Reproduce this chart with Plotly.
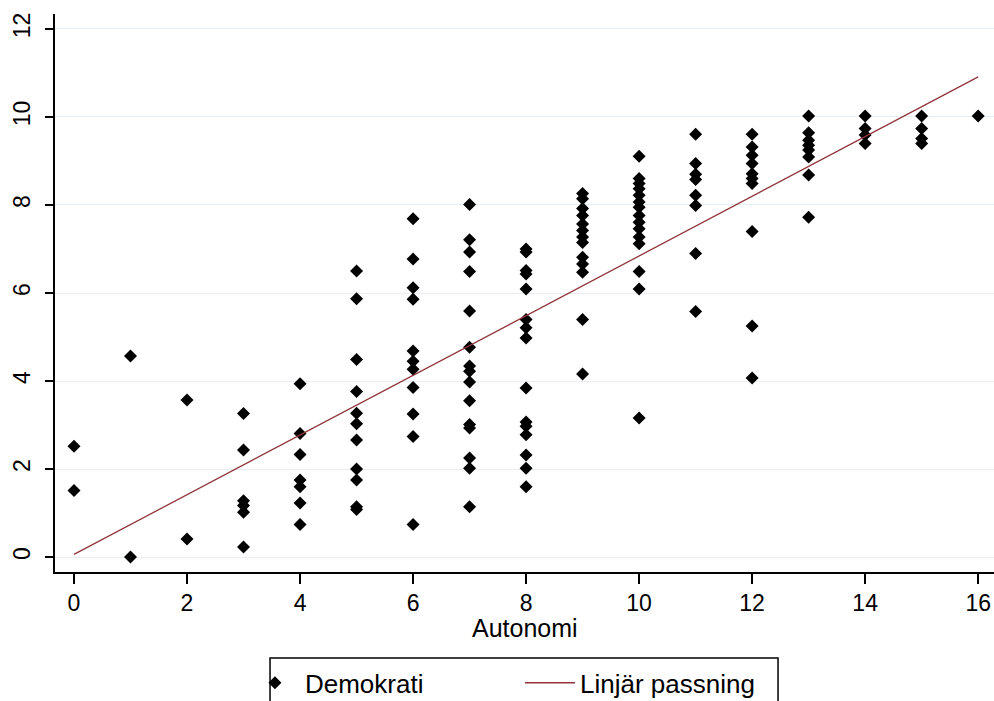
import plotly.graph_objects as go

# Autonomi (x) and Demokrati (y) values
x0 = [0, 0]
y0 = [2.52, 1.51]
x1 = [1, 1]
y1 = [4.57, 0.0]
x2 = [2, 2]
y2 = [3.57, 0.41]
x3 = [3] * 6
y3 = [3.26, 2.43, 1.28, 1.17, 1.02, 0.23]
x4 = [4] * 7
y4 = [3.94, 2.81, 2.33, 1.75, 1.60, 1.23, 0.74]
x5 = [5] * 11
y5 = [6.50, 5.87, 4.49, 3.76, 3.27, 3.03, 2.66, 2.00, 1.75, 1.14, 1.08]
x6 = [6] * 11
y6 = [7.69, 6.77, 6.12, 5.86, 4.68, 4.45, 4.27, 3.85, 3.25, 2.74, 0.74]
x7 = [7] * 15
y7 = [8.01, 7.21, 6.93, 6.49, 5.59, 4.77, 4.34, 4.22, 3.98, 3.55, 3.01,
      2.93, 2.25, 2.02, 1.14]
x8 = [8] * 15
y8 = [7.00, 6.93, 6.51, 6.43, 6.09, 5.40, 5.21, 4.98, 3.84, 3.07, 2.97,
      2.78, 2.32, 2.02, 1.60]
x9 = [9] * 13
y9 = [8.26, 8.14, 7.92, 7.76, 7.57, 7.42, 7.27, 7.15, 6.81, 6.66, 6.47,
      5.40, 4.16]
x10 = [10] * 15
y10 = [9.11, 8.60, 8.49, 8.37, 8.22, 8.07, 7.95, 7.76, 7.61, 7.46, 7.27,
       7.12, 6.49, 6.09, 3.16]
x11 = [11] * 8
y11 = [9.61, 8.94, 8.70, 8.58, 8.22, 7.99, 6.90, 5.58]
x12 = [12] * 10
y12 = [9.61, 9.32, 9.13, 8.94, 8.71, 8.60, 8.49, 7.40, 5.25, 4.07]
x13 = [13] * 8
y13 = [10.02, 9.64, 9.47, 9.36, 9.25, 9.09, 8.68, 7.72]
x14 = [14] * 4
y14 = [10.02, 9.74, 9.59, 9.40]
x15 = [15] * 4
y15 = [10.02, 9.74, 9.51, 9.40]
x16 = [16]
y16 = [10.02]

autonomi = x0 + x1 + x2 + x3 + x4 + x5 + x6 + x7 + x8 + x9 + x10 + x11 + x12 + x13 + x14 + x15 + x16
demokrati = y0 + y1 + y2 + y3 + y4 + y5 + y6 + y7 + y8 + y9 + y10 + y11 + y12 + y13 + y14 + y15 + y16

# Linear fit line
fit_x = [0, 16]
fit_y = [0.06, 10.91]

x_ticks = [0, 2, 4, 6, 8, 10, 12, 14, 16]
y_ticks = [0, 2, 4, 6, 8, 10, 12]

FONT = "Liberation Sans, Arial, sans-serif"

fig = go.Figure()
fig.add_trace(go.Scatter(
    x=autonomi, y=demokrati, mode="markers", name="Demokrati",
    marker=dict(symbol="diamond", size=10, color="black",
                line=dict(width=0)),
))
fig.add_trace(go.Scatter(
    x=fit_x, y=fit_y, mode="lines", name="Linjär passning",
    line=dict(color="#90353b", width=1.3),
))

# legend frame (decoration)
fig.add_shape(type="rect", xref="paper", yref="paper",
              x0=0.2290, x1=0.7700, y0=-0.30, y1=-0.1541,
              line=dict(color="black", width=1.5), fillcolor="rgba(0,0,0,0)")

fig.add_annotation(text="Autonomi", xref="paper", yref="paper",
                   x=0.5, y=-0.1004, xanchor="center", yanchor="middle",
                   showarrow=False, font=dict(family=FONT, size=25, color="black"))

fig.update_layout(
    width=994, height=701,
    margin=dict(l=55, r=0, t=14, b=129, autoexpand=False),
    paper_bgcolor="white", plot_bgcolor="white",
    font=dict(family=FONT, size=23, color="black"),
    showlegend=True,
    legend=dict(
        orientation="h", x=0.2023, xanchor="left", y=-0.1565, yanchor="top",
        borderwidth=0, bgcolor="rgba(0,0,0,0)",
        font=dict(family=FONT, size=26, color="black"),
        entrywidth=210, entrywidthmode="pixels", itemwidth=50,
    ),
    xaxis=dict(
        range=[-0.336, 16.28], tickvals=x_ticks, ticktext=[str(v) for v in x_ticks],
        showgrid=False, zeroline=False, showline=True, linecolor="black",
        linewidth=1.5, ticks="outside", ticklen=10, tickcolor="black",
        tickwidth=1.5, automargin=False, ticklabelstandoff=0,
        ticklabeloverflow="allow",
        tickfont=dict(size=23),
    ),
    yaxis=dict(
        range=[-0.34, 12.34], tickvals=y_ticks, ticktext=[str(v) for v in y_ticks],
        showgrid=True, gridcolor="#e6eff1", gridwidth=1.2,
        zeroline=False, showline=True, linecolor="black", linewidth=1.5,
        ticks="outside", ticklen=8, tickcolor="black", tickwidth=1.5,
        tickangle=-90, automargin=False, ticklabelstandoff=6,
        tickfont=dict(size=23),
    ),
)

fig.write_html(
    "out.html",
    config={"displayModeBar": False},
    post_script="document.body.style.margin='0';document.body.style.overflow='hidden';",
)
